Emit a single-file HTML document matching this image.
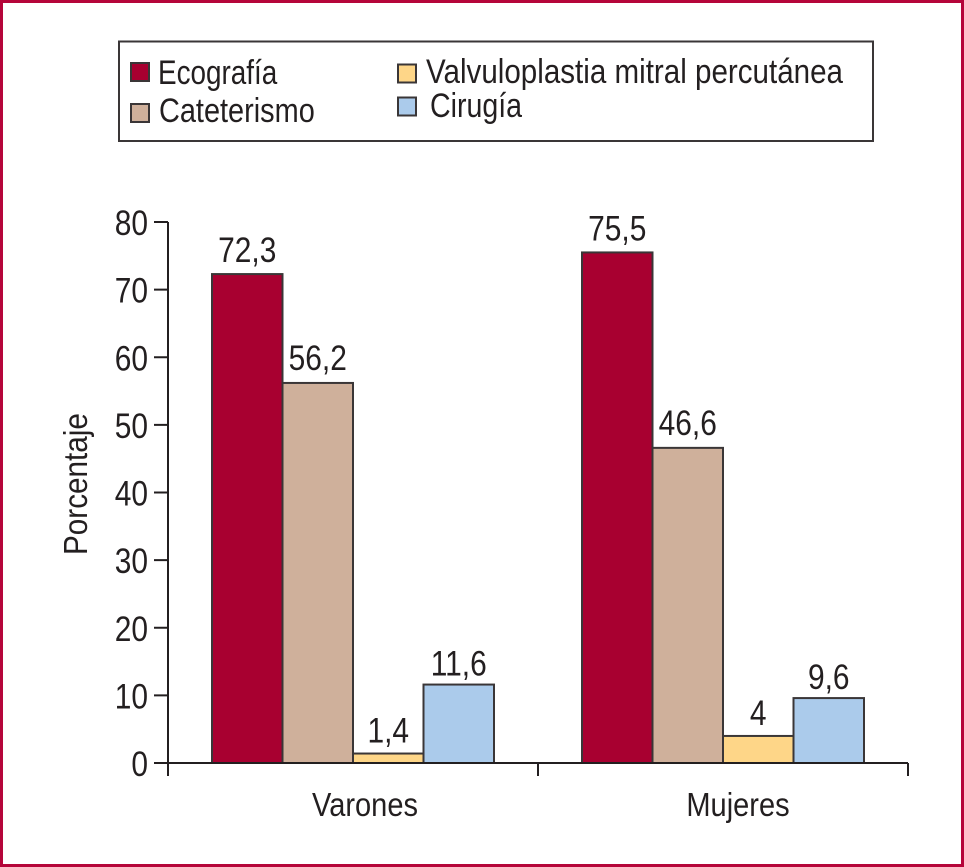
<!DOCTYPE html>
<html lang="es">
<head>
<meta charset="utf-8">
<title>Porcentaje por sexo</title>
<style>
html,body{margin:0;padding:0;background:#fff}
svg{display:block}
text{font-family:"Liberation Sans",sans-serif;font-size:35px;fill:#231f20}
</style>
</head>
<body>
<svg id="chart" width="964" height="867" viewBox="0 0 964 867" xmlns="http://www.w3.org/2000/svg">
  <rect x="1.5" y="1.5" width="961" height="864" fill="#fff" stroke="#b5053a" stroke-width="3"/>
  <rect x="119" y="41.5" width="754" height="99.5" fill="#fff" stroke="#3a3637" stroke-width="2"/>
  <g id="legend"></g>
  <g id="bars"></g>
  <g id="axes"></g>
  <g id="labels"></g>
  <text transform="translate(87,555) rotate(-90) scale(.9,1)" style="font-size:33px">Porcentaje</text>
</svg>
<script>
const categories = ["Varones", "Mujeres"];
const seriesNames = ["Ecografía", "Cateterismo", "Valvuloplastia mitral percutánea", "Cirugía"];
const ecografia = [72.3, 75.5];
const cateterismo = [56.2, 46.6];
const valvuloplastia = [1.4, 4];
const cirugia = [11.6, 9.6];
const valueLabels = [["72,3", "75,5"], ["56,2", "46,6"], ["1,4", "4"], ["11,6", "9,6"]];
const yTicks = [0, 10, 20, 30, 40, 50, 60, 70, 80];
const seriesColors = ["#a80030", "#cfb09b", "#fed688", "#abcbeb"];

const NS = "http://www.w3.org/2000/svg";
const INK = "#231f20";
const X_LEFT = 168, X_RIGHT = 908, Y_ZERO = 763, Y_TOP = 222, Y_MAX = 80;
const BAR_W = 70.5, BAR_LEFT_INSET = 44;
const SX = 0.855;
const labelGap = [12, 13, 11, 9];

function y(v) { return Y_ZERO - (v / Y_MAX) * (Y_ZERO - Y_TOP); }
function groupLeft(i) { return X_LEFT + i * (X_RIGHT - X_LEFT) / categories.length; }
function barX(c, s) { return groupLeft(c) + BAR_LEFT_INSET + s * BAR_W; }

function make(tag, attrs, parent, txt) {
  const el = document.createElementNS(NS, tag);
  for (const k in attrs) el.setAttribute(k, attrs[k]);
  if (txt !== undefined) el.textContent = txt;
  parent.appendChild(el);
  return el;
}

const barsG = document.getElementById("bars");
const axesG = document.getElementById("axes");
const labelsG = document.getElementById("labels");
const legendG = document.getElementById("legend");
const seriesValues = [ecografia, cateterismo, valvuloplastia, cirugia];

seriesValues.forEach(function (vals, s) {
  vals.forEach(function (v, c) {
    const r = make("rect", {
      x: barX(c, s), y: y(v), width: BAR_W, height: Y_ZERO - y(v),
      fill: seriesColors[s], stroke: "#3a3637", "stroke-width": 2
    }, barsG);
    
    
    const t = make("text", {
      transform: "translate(" + (barX(c, s) + BAR_W / 2) + "," + (y(v) - labelGap[s]) + ") scale(" + SX + ",1)",
      "text-anchor": "middle"
    }, labelsG, valueLabels[s][c]);
    
    
  });
});

const yLine = make("line", { x1: X_LEFT, x2: X_LEFT, y1: Y_TOP, y2: Y_ZERO + 13, stroke: INK, "stroke-width": 2 }, axesG);


const xLine = make("line", { x1: X_LEFT - 14, x2: X_RIGHT, y1: Y_ZERO, y2: Y_ZERO, stroke: INK, "stroke-width": 2 }, axesG);



yTicks.forEach(function (v) {
  const tk = make("line", { x1: X_LEFT - 14, x2: X_LEFT, y1: y(v), y2: y(v), stroke: INK, "stroke-width": 2 }, axesG);
  
  
  const lb = make("text", {
    transform: "translate(" + (X_LEFT - 20) + "," + (y(v) + 13) + ") scale(" + SX + ",1)",
    "text-anchor": "end"
  }, axesG, String(v));
  
  
});

for (let i = 0; i <= categories.length; i++) {
  const tk = make("line", { x1: groupLeft(i), x2: groupLeft(i), y1: Y_ZERO, y2: Y_ZERO + 13, stroke: INK, "stroke-width": 2 }, axesG);
  
  
}

const categoryLabelOffset = 12;
const categoryLabelNudge = [0, 3];
categories.forEach(function (name, c) {
  const cx = barX(c, 2) + categoryLabelOffset + categoryLabelNudge[c];
  const lb = make("text", {
    transform: "translate(" + cx + ",816) scale(.88,1)",
    "text-anchor": "middle",
    style: "font-size:33px"
  }, axesG, name);
  
  
});

const legendX = [131, 131, 398, 398];
const legendSwatchY = [63, 104, 64.5, 97.5];
const legendTextX = [158, 159, 426, 430];
const legendTextY = [84, 122, 83, 117];
const legendTextScale = [0.82, 0.85, 0.87, 0.84];
seriesNames.forEach(function (name, i) {
  const sw = make("rect", {
    x: legendX[i], y: legendSwatchY[i], width: 18, height: 18,
    fill: seriesColors[i], stroke: "#3a3637", "stroke-width": 2
  }, legendG);
  
  
  const t = make("text", {
    transform: "translate(" + legendTextX[i] + "," + legendTextY[i] + ") scale(" + legendTextScale[i] + ",1)",
    style: "font-size:34px"
  }, legendG, name);
  
  
});
</script>
</body>
</html>
